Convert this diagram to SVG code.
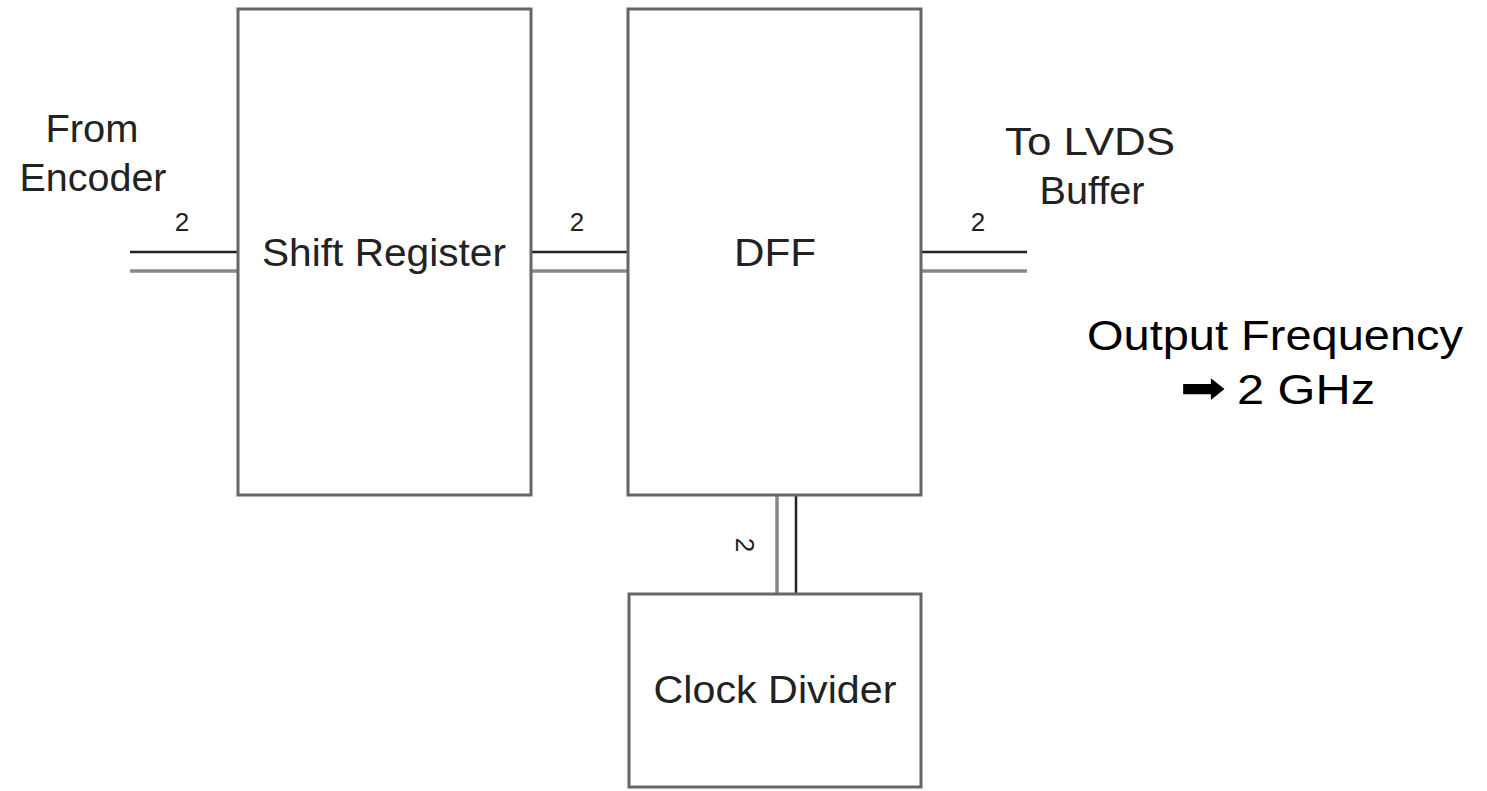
<svg xmlns="http://www.w3.org/2000/svg" width="1487" height="791" viewBox="0 0 1487 791">
<style>
.box{fill:#fff;stroke:#666;stroke-width:3}
.lbl{font-family:"Liberation Sans",Arial,sans-serif;fill:#222;text-anchor:middle}
.big{font-size:39px}
.num{font-size:26px}
.out{font-family:"Liberation Sans",Arial,sans-serif;fill:#000;font-size:42px;text-anchor:middle}
.arr{font-family:"DejaVu Sans",sans-serif;fill:#000;font-size:44px;text-anchor:middle}
.dk{stroke:#222;stroke-width:2.5;fill:none}
.gy{stroke:#888;stroke-width:3.5;fill:none}
</style>
<rect width="1487" height="791" fill="#fff"/>
<g id="connectors">
<line class="dk" x1="130" y1="252" x2="238" y2="252"/>
<line class="gy" x1="130" y1="271" x2="238" y2="271"/>
<line class="dk" x1="531" y1="252" x2="628" y2="252"/>
<line class="gy" x1="531" y1="271" x2="628" y2="271"/>
<line class="dk" x1="921" y1="252" x2="1027" y2="252"/>
<line class="gy" x1="921" y1="271" x2="1027" y2="271"/>
<line class="gy" x1="777" y1="495" x2="777" y2="594"/>
<line class="dk" x1="796" y1="495" x2="796" y2="594"/>
<text class="lbl num" x="182" y="231">2</text>
<text class="lbl num" x="577" y="231">2</text>
<text class="lbl num" x="978" y="231">2</text>
<text class="lbl num" transform="translate(736,545) rotate(90)" x="0" y="0">2</text>
</g>
<g id="shift-register">
<rect class="box" x="238" y="9" width="293" height="486"/>
<text class="lbl big" x="384" y="266" textLength="244" lengthAdjust="spacingAndGlyphs">Shift Register</text>
</g>
<g id="dff">
<rect class="box" x="628" y="9" width="293" height="486"/>
<text class="lbl big" x="775" y="266" textLength="82" lengthAdjust="spacingAndGlyphs">DFF</text>
</g>
<g id="clock-divider">
<rect class="box" x="629" y="594" width="292" height="193"/>
<text class="lbl big" x="775" y="703" textLength="243" lengthAdjust="spacingAndGlyphs">Clock Divider</text>
</g>
<g id="from-encoder">
<text class="lbl big" x="92" y="142" textLength="93" lengthAdjust="spacingAndGlyphs">From</text>
<text class="lbl big" x="93" y="191" textLength="147" lengthAdjust="spacingAndGlyphs">Encoder</text>
</g>
<g id="to-lvds">
<text class="lbl big" x="1090" y="155" textLength="170" lengthAdjust="spacingAndGlyphs">To LVDS</text>
<text class="lbl big" x="1092" y="204" textLength="105" lengthAdjust="spacingAndGlyphs">Buffer</text>
</g>
<g id="output-frequency">
<text class="out" x="1275" y="350" textLength="376" lengthAdjust="spacingAndGlyphs">Output Frequency</text>
<text class="arr" x="1203" y="403" textLength="46" lengthAdjust="spacingAndGlyphs">➡</text>
<text class="out" x="1306" y="404" textLength="138" lengthAdjust="spacingAndGlyphs">2 GHz</text>
</g>
</svg>
